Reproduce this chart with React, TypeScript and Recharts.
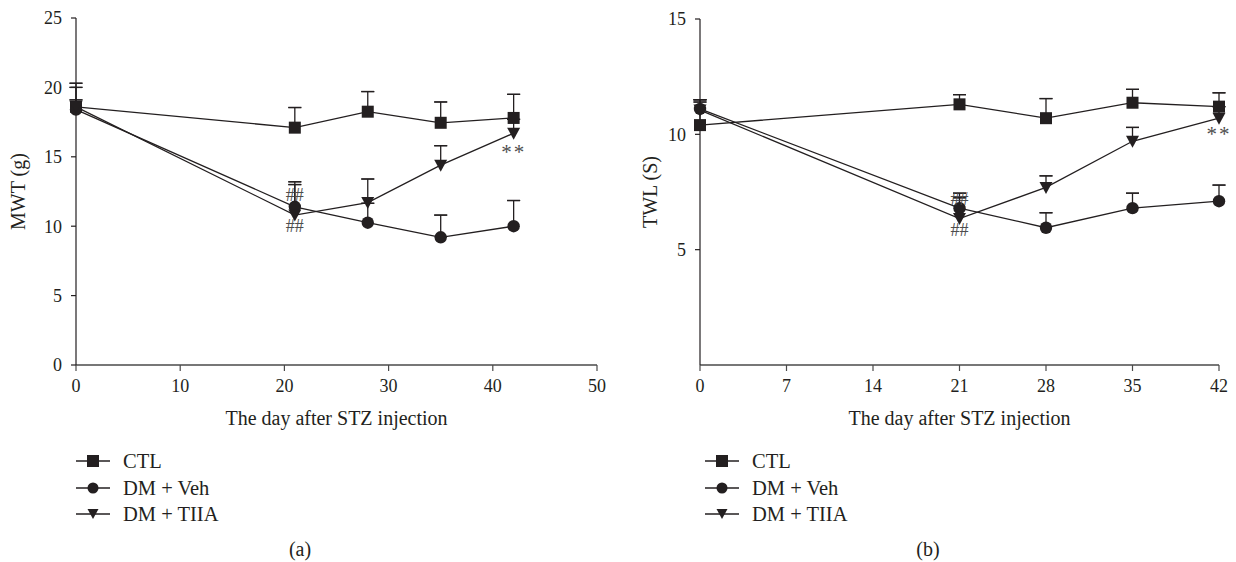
import React from 'react';
import { LineChart, Line, XAxis, YAxis, ErrorBar, LabelList } from 'recharts';

// Shared x categories (days after STZ injection)
const days = [0, 21, 28, 35, 42];

// (a) mechanical withdrawal threshold, g
const ctlMwt = [18.6, 17.1, 18.25, 17.45, 17.8];
const ctlMwtErr = [1.7, 1.45, 1.45, 1.5, 1.7];
const vehMwt = [18.4, 11.4, 10.25, 9.2, 10.0];
const vehMwtErr = [0.7, 1.8, 1.4, 1.6, 1.85];
const tiiaMwt = [18.6, 10.8, 11.7, 14.4, 16.7];
const tiiaMwtErr = [1.4, 2.2, 1.7, 1.4, 1.0];

// (b) thermal withdrawal latency, s
const ctlTwl = [10.4, 11.3, 10.7, 11.37, 11.2];
const ctlTwlErr = [1.1, 0.42, 0.85, 0.58, 0.6];
const vehTwl = [11.1, 6.8, 5.95, 6.8, 7.1];
const vehTwlErr = [0.4, 0.65, 0.65, 0.65, 0.7];
const tiiaTwl = [11.05, 6.35, 7.7, 9.7, 10.7];
const tiiaTwlErr = [0.35, 0.9, 0.5, 0.6, 0.5];

// significance marks
const vehMarks = ['', '##', '', '', ''];
const tiiaMarks = ['', '##', '', '', '**'];

const mwtTicks = [0, 5, 10, 15, 20, 25];
const mwtDayTicks = [0, 10, 20, 30, 40, 50];
const twlTicks = [5, 10, 15];
const twlDayTicks = [0, 7, 14, 21, 28, 35, 42];

const legendNames = ['CTL', 'DM + Veh', 'DM + TIIA'];

const FONT = '"Liberation Serif", "Times New Roman", serif';
const INK = '#231f20';
const GREY = '#4d4d4d';

function buildRows(
  ctl: number[], ctlErr: number[],
  veh: number[], vehErr: number[],
  tiia: number[], tiiaErr: number[]
) {
  return days.map((day, i) => ({
    day,
    ctl: ctl[i],
    ctlBar: [0, ctlErr[i]],
    ctlCap: [-ctlErr[i], ctlErr[i]],
    veh: veh[i],
    vehBar: [0, vehErr[i]],
    vehCap: [-vehErr[i], vehErr[i]],
    vehMark: vehMarks[i],
    tiia: tiia[i],
    tiiaBar: [0, tiiaErr[i]],
    tiiaCap: [-tiiaErr[i], tiiaErr[i]],
    tiiaMark: tiiaMarks[i],
  }));
}

const mwtRows = buildRows(ctlMwt, ctlMwtErr, vehMwt, vehMwtErr, tiiaMwt, tiiaMwtErr);
const twlRows = buildRows(ctlTwl, ctlTwlErr, vehTwl, vehTwlErr, tiiaTwl, tiiaTwlErr);

const squareDot = (props: any) => {
  const { cx, cy, index } = props;
  if (cx == null || cy == null) return <g key={`s${index}`} />;
  return <rect key={`s${index}`} x={cx - 6} y={cy - 6} width={12} height={12} fill={INK} />;
};

const circleDot = (props: any) => {
  const { cx, cy, index } = props;
  if (cx == null || cy == null) return <g key={`c${index}`} />;
  return <circle key={`c${index}`} cx={cx} cy={cy} r={6.2} fill={INK} />;
};

const triangleDot = (props: any) => {
  const { cx, cy, index } = props;
  if (cx == null || cy == null) return <g key={`t${index}`} />;
  return (
    <polygon
      key={`t${index}`}
      points={`${cx - 6.5},${cy - 5.5} ${cx + 6.5},${cy - 5.5} ${cx},${cy + 6.5}`}
      fill={INK}
    />
  );
};

// renders "##" / "**" next to a point, dy chosen by symbol
const markLabel = (hashDy: number, starDy: number) => (props: any) => {
  const { value } = props;
  if (!value) return null;
  const x = props.x ?? props.viewBox?.x;
  const y = props.y ?? props.viewBox?.y;
  const star = value === '**';
  return (
    <text
      x={x}
      y={y + (star ? starDy : hashDy)}
      textAnchor="middle"
      fontFamily={FONT}
      fontSize={star ? 21 : 18}
      letterSpacing={star ? 2 : 0}
      fill={GREY}
    >
      {value}
    </text>
  );
};

const yTitle = (text: string, x: number) => (props: any) => {
  const vb = props.viewBox || {};
  const cy = vb.y + vb.height / 2;
  return (
    <text
      x={x}
      y={cy}
      transform={`rotate(-90 ${x} ${cy})`}
      textAnchor="middle"
      dominantBaseline="central"
      fontFamily={FONT}
      fontSize={20}
      fill={INK}
    >
      {text}
    </text>
  );
};

interface PanelProps {
  rows: any[];
  left: number;
  width: number;
  margin: { top: number; right: number; left: number; bottom: number };
  yWidth: number;
  yDomain: [number, number];
  yTicks: number[];
  xDomain: [number, number];
  xTicks: number[];
  yLabel: string;
  yLabelX: number;
  vehHashDy: number;
  tiiaHashDy: number;
  starDy: number;
}

function Panel(p: PanelProps) {
  const tick = { fontFamily: FONT, fontSize: 18, fill: INK };
  return (
    <div style={{ position: 'absolute', left: p.left, top: 0 }}>
      <LineChart width={p.width} height={440} data={p.rows} margin={p.margin}>
        <XAxis
          type="number"
          dataKey="day"
          domain={p.xDomain}
          ticks={p.xTicks}
          tick={tick}
          tickSize={6}
          tickMargin={8}
          height={65}
          axisLine={{ stroke: '#4a4a4a', strokeWidth: 1.6 }}
          tickLine={{ stroke: '#4a4a4a', strokeWidth: 1.2 }}
          label={{
            value: 'The day after STZ injection',
            position: 'insideBottom',
            offset: 5,
            fontFamily: FONT,
            fontSize: 20,
            fill: INK,
          }}
        />
        <YAxis
          type="number"
          domain={p.yDomain}
          ticks={p.yTicks}
          tick={tick}
          tickSize={5}
          tickMargin={9}
          width={p.yWidth}
          axisLine={{ stroke: INK, strokeWidth: 1.2 }}
          tickLine={{ stroke: INK, strokeWidth: 1.2 }}
          label={{ content: yTitle(p.yLabel, p.yLabelX) } as any}
        />
        <Line
          dataKey="ctl"
          stroke={INK}
          strokeWidth={1.3}
          dot={squareDot}
          activeDot={false}
          isAnimationActive={false}
        >
          <ErrorBar dataKey="ctlBar" width={0} stroke={INK} strokeWidth={1.3} />
          <ErrorBar dataKey="ctlCap" width={6.5} stroke={INK} strokeWidth={1.3} />
        </Line>
        <Line
          dataKey="veh"
          stroke={INK}
          strokeWidth={1.3}
          dot={circleDot}
          activeDot={false}
          isAnimationActive={false}
        >
          <ErrorBar dataKey="vehBar" width={0} stroke={INK} strokeWidth={1.3} />
          <ErrorBar dataKey="vehCap" width={6.5} stroke={INK} strokeWidth={1.3} />
          <LabelList dataKey="vehMark" content={markLabel(p.vehHashDy, p.starDy)} />
        </Line>
        <Line
          dataKey="tiia"
          stroke={INK}
          strokeWidth={1.3}
          dot={triangleDot}
          activeDot={false}
          isAnimationActive={false}
        >
          <ErrorBar dataKey="tiiaBar" width={0} stroke={INK} strokeWidth={1.3} />
          <ErrorBar dataKey="tiiaCap" width={6.5} stroke={INK} strokeWidth={1.3} />
          <LabelList dataKey="tiiaMark" content={markLabel(p.tiiaHashDy, p.starDy)} />
        </Line>
      </LineChart>
    </div>
  );
}

function LegendMarker({ kind }: { kind: number }) {
  if (kind === 0) return <rect x={11} y={2} width={12} height={12} fill={INK} />;
  if (kind === 1) return <circle cx={17} cy={8} r={5.5} fill={INK} />;
  return <polygon points="11.5,3 22.5,3 17,13" fill={INK} />;
}

function SeriesLegend({ left, top }: { left: number; top: number }) {
  return (
    <div style={{ position: 'absolute', left, top, fontFamily: FONT, fontSize: 20.5, color: INK }}>
      {legendNames.map((name, i) => (
        <div key={name} style={{ display: 'flex', alignItems: 'center', height: 26.5 }}>
          <svg width={34} height={16} style={{ display: 'block' }}>
            <line x1={0} y1={8} x2={34} y2={8} stroke={INK} strokeWidth={1.3} />
            <LegendMarker kind={i} />
          </svg>
          <span style={{ marginLeft: 13, lineHeight: '20px' }}>{name}</span>
        </div>
      ))}
    </div>
  );
}

export default function App() {
  return (
    <div
      style={{
        position: 'absolute',
        left: 0,
        top: 0,
        width: 1236,
        height: 562,
        background: '#ffffff',
        fontFamily: FONT,
        overflow: 'hidden',
      }}
    >
      <Panel
        rows={mwtRows}
        left={0}
        width={620}
        margin={{ top: 18, right: 23, left: 20, bottom: 10 }}
        yWidth={56}
        yDomain={[0, 25]}
        yTicks={mwtTicks}
        xDomain={[0, 50]}
        xTicks={mwtDayTicks}
        yLabel="MWT (g)"
        yLabelX={18}
        vehHashDy={-6}
        tiiaHashDy={17}
        starDy={26}
      />
      <Panel
        rows={twlRows}
        left={620}
        width={616}
        margin={{ top: 19, right: 17, left: 20, bottom: 10 }}
        yWidth={60}
        yDomain={[0, 15]}
        yTicks={twlTicks}
        xDomain={[0, 42]}
        xTicks={twlDayTicks}
        yLabel="TWL (S)"
        yLabelX={30}
        vehHashDy={-3}
        tiiaHashDy={17}
        starDy={23}
      />
      <SeriesLegend left={76} top={448} />
      <SeriesLegend left={705} top={448} />
      <div style={{ position: 'absolute', left: 270, width: 60, top: 538, textAlign: 'center', fontSize: 20, color: INK }}>
        (a)
      </div>
      <div style={{ position: 'absolute', left: 898, width: 60, top: 538, textAlign: 'center', fontSize: 20, color: INK }}>
        (b)
      </div>
    </div>
  );
}
